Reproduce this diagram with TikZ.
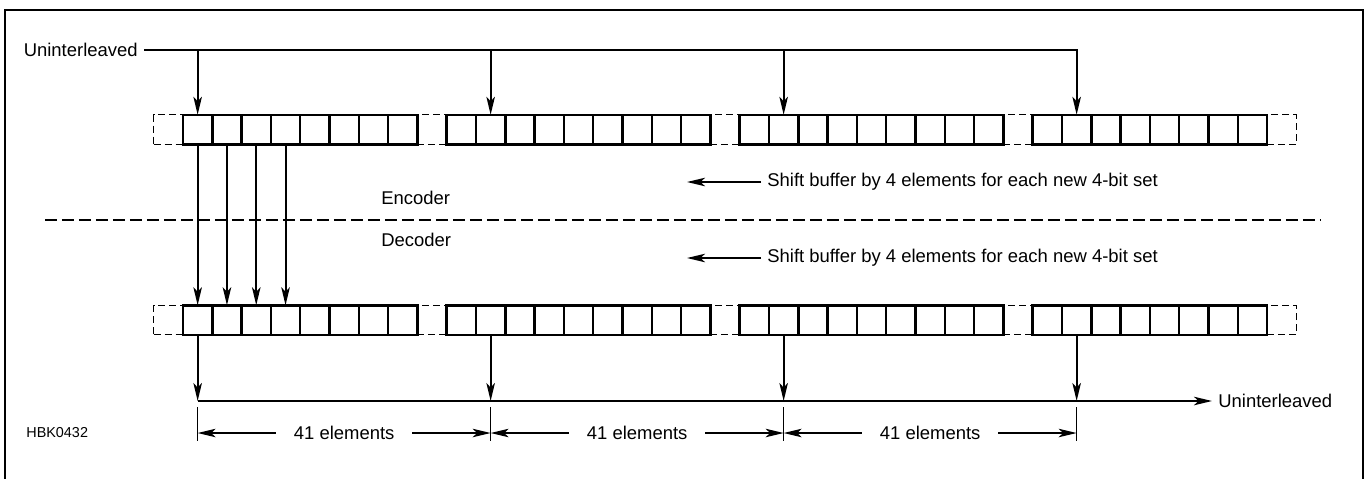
\documentclass[tikz,border=0pt]{standalone}
\usepackage{fontspec}
\setmainfont{Liberation Sans}
\usetikzlibrary{arrows.meta}

\tikzset{
    tip/.tip={Stealth[length=0.36cm,width=0.17cm,inset=0.09cm]},
    cell/.style={draw,line width=0.05cm,minimum width=0.586cm,minimum height=0.59cm,inner sep=0pt,outer sep=0pt},
    ghost/.style={draw,line width=0.028cm,dash pattern=on 0.14cm off 0.08cm,minimum width=0.586cm,minimum height=0.59cm,inner sep=0pt,outer sep=0pt},
    flow/.style={line width=0.04cm,-tip},
    dim/.style={line width=0.025cm,tip-tip},
    lbl/.style={font=\fontsize{10.5}{12}\selectfont,inner sep=0.12cm}
}

\begin{document}
\begin{tikzpicture}[x=0.02cm,y=-0.02cm]
    \useasboundingbox (0,0) rectangle (1370,478);
    \draw[line width=0.055cm] (5,482) -- (5,10) -- (1363,10) -- (1363,482);
    \foreach \k in {0,9,19,29,38}{%
        \node[ghost] (t\k) at ({153.7+(\k+0.5)*29.3},129.5) {};
        \node[ghost] (b\k) at ({153.7+(\k+0.5)*29.3},320) {};
    }
    \foreach \first/\last in {1/8,10/18,20/28,30/37}{%
        \foreach \k in {\first,...,\last}{%
            \node[cell] (t\k) at ({153.7+(\k+0.5)*29.3},129.5) {};
            \node[cell] (b\k) at ({153.7+(\k+0.5)*29.3},320) {};
        }
    }
    \node[lbl,anchor=east] (uin) at (144,50) {Uninterleaved};
    \draw[flow] (uin.east) -| (t31.north);
    \foreach \k in {1,11,21}{%
        \draw[flow] (t\k.north |- uin.east) -- (t\k.north);
    }
    \foreach \k in {1,...,4}{%
        \draw[flow] (t\k.south) -- (b\k.north);
    }
    \node[lbl,anchor=west] (enc) at (375,198) {Encoder};
    \node[lbl,anchor=west] (dec) at (375,240) {Decoder};
    \draw[line width=0.045cm,dash pattern=on 0.24cm off 0.1cm] (45,220) -- (1320,220);
    \node[lbl,anchor=west] (shenc) at (761,182) {Shift buffer by 4 elements for each new 4-bit set};
    \node[lbl,anchor=west] (shdec) at (761,258) {Shift buffer by 4 elements for each new 4-bit set};
    \coordinate (shencend) at (687,182);
    \coordinate (shdecend) at (687,258);
    \draw[flow] (shenc.west) -- (shencend);
    \draw[flow] (shdec.west) -- (shdecend);
    \node[lbl,anchor=west] (uout) at (1212,401) {Uninterleaved};
    \draw[flow] (b1.south |- uout.west) -- (uout.west);
    \foreach \k in {1,11,21,31}{%
        \draw[flow] (b\k.south) -- (b\k.south |- uout.west);
    }
    \coordinate (dimtop) at (0,407);
    \coordinate (dimbot) at (0,441);
    \coordinate (dimmid) at (0,433);
    \foreach \k in {1,11,21,31}{%
        \draw[line width=0.025cm] (b\k.south |- dimtop) -- (b\k.south |- dimbot);
    }
    \foreach \a/\b in {1/11,11/21,21/31}{%
        \draw[dim] (b\a.south |- dimmid) -- (b\b.south |- dimmid)
            node[midway,lbl,fill=white,inner xsep=0.36cm] (len\a) {41 elements};
    }
    \node[font=\fontsize{8.2}{10}\selectfont,anchor=west,inner sep=0pt] (fig) at (26,433) {HBK0432};
\end{tikzpicture}
\end{document}
